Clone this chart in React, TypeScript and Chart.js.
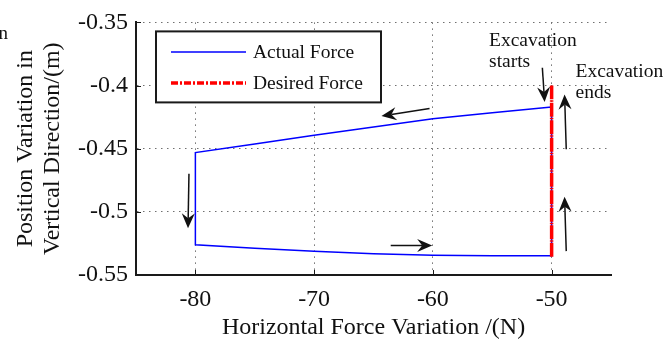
import React, { useEffect, useRef } from "react";
import { Chart, registerables } from "chart.js";

Chart.register(...registerables);

// ---- data ----
const seriesNames = ["Actual Force", "Desired Force"];
const xTitle = "Horizontal Force Variation /(N)";
const yTitle = ["Position Variation in", "Vertical Direction/(m)"];

const xTicks = [-80, -70, -60, -50];
const xTickLabels = ["-80", "-70", "-60", "-50"];
const yTicks = [-0.55, -0.5, -0.45, -0.4, -0.35];
const yTickLabels = ["-0.55", "-0.5", "-0.45", "-0.4", "-0.35"];

// Actual force loop: top edge (right to left), left edge, bottom edge (left to right), right edge
const actualX = [-50, -55, -60, -65, -70, -75, -80, -80, -75, -70, -65, -60, -55, -50, -50];
const actualY = [
  -0.4169, -0.4215, -0.4262, -0.4329, -0.4394, -0.4463, -0.4531,
  -0.526, -0.5288, -0.5312, -0.5332, -0.5343, -0.5347, -0.5347, -0.4169,
];

const desiredX = [-50, -50];
const desiredY = [-0.5355, -0.4];

// annotation arrows (tail -> tip), data units
const arrowTailX = [-60.28, -80.54, -63.55, -48.77, -48.77, -50.78];
const arrowTailY = [-0.4182, -0.4699, -0.5267, -0.5311, -0.4505, -0.3859];
const arrowTipX = [-64.33, -80.62, -60.06, -48.91, -48.91, -50.59];
const arrowTipY = [-0.4242, -0.513, -0.5267, -0.488, -0.4071, -0.413];

// annotation texts (left, baseline), data units
const noteTexts = ["Excavation", "starts", "Excavation", "ends"];
const noteX = [-55.27, -55.27, -47.99, -47.99];
const noteY = [-0.3688, -0.3854, -0.3936, -0.4099];

const SERIF = '"Liberation Serif", "Times New Roman", serif';
const TEXT = "#111111";

function drawArrow(ctx: CanvasRenderingContext2D, x1: number, y1: number, x2: number, y2: number) {
  const ang = Math.atan2(y2 - y1, x2 - x1);
  const L = 15, W = 6.5, N = 5;
  ctx.save();
  ctx.strokeStyle = TEXT;
  ctx.fillStyle = TEXT;
  ctx.lineWidth = 1.5;
  ctx.setLineDash([]);
  const bx = x2 - Math.cos(ang) * (L - N);
  const by = y2 - Math.sin(ang) * (L - N);
  ctx.beginPath();
  ctx.moveTo(x1, y1);
  ctx.lineTo(bx, by);
  ctx.stroke();
  ctx.translate(x2, y2);
  ctx.rotate(ang);
  ctx.beginPath();
  ctx.moveTo(0, 0);
  ctx.lineTo(-L, -W);
  ctx.lineTo(-L + N, 0);
  ctx.lineTo(-L, W);
  ctx.closePath();
  ctx.fill();
  ctx.restore();
}

const annotationPlugin = {
  id: "annotations",
  afterDraw(chart: any) {
    const ctx: CanvasRenderingContext2D = chart.ctx;
    const xs = chart.scales.x;
    const ys = chart.scales.y;
    const area = chart.chartArea;

    ctx.save();
    // inside tick marks
    ctx.strokeStyle = "#1a1a1a";
    ctx.lineWidth = 1;
    ctx.setLineDash([]);
    xTicks.forEach((v) => {
      const px = Math.round(xs.getPixelForValue(v)) + 0.5;
      ctx.beginPath();
      ctx.moveTo(px, area.bottom);
      ctx.lineTo(px, area.bottom - 5);
      ctx.stroke();
    });
    yTicks.forEach((v) => {
      const py = Math.round(ys.getPixelForValue(v)) + 0.5;
      ctx.beginPath();
      ctx.moveTo(area.left, py);
      ctx.lineTo(area.left + 5, py);
      ctx.stroke();
    });

    // arrows
    for (let i = 0; i < arrowTailX.length; i++) {
      drawArrow(
        ctx,
        xs.getPixelForValue(arrowTailX[i]),
        ys.getPixelForValue(arrowTailY[i]),
        xs.getPixelForValue(arrowTipX[i]),
        ys.getPixelForValue(arrowTipY[i])
      );
    }

    // notes
    ctx.fillStyle = TEXT;
    ctx.font = `19.5px ${SERIF}`;
    ctx.textAlign = "left";
    ctx.textBaseline = "alphabetic";
    for (let i = 0; i < noteTexts.length; i++) {
      ctx.fillText(noteTexts[i], xs.getPixelForValue(noteX[i]), ys.getPixelForValue(noteY[i]));
    }

    // legend
    const lx = area.left + 20;
    const ly = area.top + 9;
    const lw = 225;
    const lh = 71;
    ctx.fillStyle = "#ffffff";
    ctx.fillRect(lx, ly, lw, lh);
    ctx.strokeStyle = "#1a1a1a";
    ctx.lineWidth = 2;
    ctx.strokeRect(lx, ly, lw, lh);

    ctx.strokeStyle = "#0000ff";
    ctx.lineWidth = 1.5;
    ctx.beginPath();
    ctx.moveTo(lx + 15, ly + 20.5);
    ctx.lineTo(lx + 90, ly + 20.5);
    ctx.stroke();

    ctx.strokeStyle = "#ff0000";
    ctx.lineWidth = 3.5;
    ctx.setLineDash([7, 2, 2, 2]);
    ctx.beginPath();
    ctx.moveTo(lx + 15, ly + 51.5);
    ctx.lineTo(lx + 90, ly + 51.5);
    ctx.stroke();
    ctx.setLineDash([]);

    ctx.fillStyle = TEXT;
    ctx.font = `19.5px ${SERIF}`;
    ctx.fillText(seriesNames[0], lx + 97, ly + 26.7);
    ctx.fillText(seriesNames[1], lx + 97, ly + 57.3);

    // clipped fragment at the top-left edge
    ctx.font = `19px ${SERIF}`;
    ctx.textAlign = "right";
    ctx.fillText("n", 8, 39);
    ctx.restore();
  },
};

export default function App() {
  const canvasRef = useRef<HTMLCanvasElement | null>(null);

  useEffect(() => {
    const canvas = canvasRef.current;
    if (!canvas) return;
    const chart = new Chart(canvas, {
      type: "scatter",
      data: {
        datasets: [
          {
            label: seriesNames[0],
            data: actualX.map((x, i) => ({ x, y: actualY[i] })),
            showLine: true,
            borderColor: "#0000ff",
            backgroundColor: "#0000ff",
            borderWidth: 1.5,
            pointRadius: 0,
            fill: false,
            order: 1,
          },
          {
            label: seriesNames[1],
            data: desiredX.map((x, i) => ({ x, y: desiredY[i] })),
            showLine: true,
            borderColor: "#ff0000",
            backgroundColor: "#ff0000",
            borderWidth: 3.5,
            borderDash: [14, 1, 1.5, 1],
            pointRadius: 0,
            fill: false,
            order: 0,
          },
        ],
      },
      options: {
        animation: false,
        responsive: false,
        devicePixelRatio: 1,
        layout: { padding: { left: 0, top: 17, right: 61, bottom: 0 } },
        plugins: {
          legend: { display: false },
          tooltip: { enabled: false },
        },
        scales: {
          x: {
            type: "linear",
            min: -85,
            max: -45,
            afterBuildTicks: (s: any) => {
              s.ticks = xTicks.map((v) => ({ value: v }));
            },
            afterFit: (s: any) => {
              s.height = 64;
            },
            grid: { color: "#707070", lineWidth: 1, drawTicks: false },
            border: { display: true, color: "#1a1a1a", width: 2, dash: [1.5, 4.5] },
            ticks: {
              color: TEXT,
              font: { family: SERIF, size: 24 },
              padding: 10,
              maxRotation: 0,
              autoSkip: false,
              callback: (_v: any, i: number) => xTickLabels[i],
            },
            title: {
              display: true,
              text: xTitle,
              color: TEXT,
              font: { family: SERIF, size: 24, lineHeight: "22px" },
              padding: { top: 0, bottom: 0 },
            },
          },
          y: {
            type: "linear",
            min: -0.55,
            max: -0.35,
            afterBuildTicks: (s: any) => {
              s.ticks = yTicks.map((v) => ({ value: v }));
            },
            afterFit: (s: any) => {
              s.width = 136;
            },
            grid: { color: "#707070", lineWidth: 1, drawTicks: false },
            border: { display: true, color: "#1a1a1a", width: 2, dash: [1.5, 4.5] },
            ticks: {
              color: TEXT,
              font: { family: SERIF, size: 24 },
              padding: 8,
              autoSkip: false,
              callback: (_v: any, i: number) => yTickLabels[i],
            },
            title: {
              display: true,
              text: yTitle,
              color: TEXT,
              font: { family: SERIF, size: 24, lineHeight: "27px" },
              padding: { top: 12, bottom: 0 },
            },
          },
        },
      },
      plugins: [annotationPlugin],
    } as any);
    return () => chart.destroy();
  }, []);

  return (
    <div style={{ position: "fixed", left: 0, top: 0, width: 672, height: 339, background: "#ffffff" }}>
      <canvas ref={canvasRef} width={672} height={339} style={{ display: "block" }} />
    </div>
  );
}
